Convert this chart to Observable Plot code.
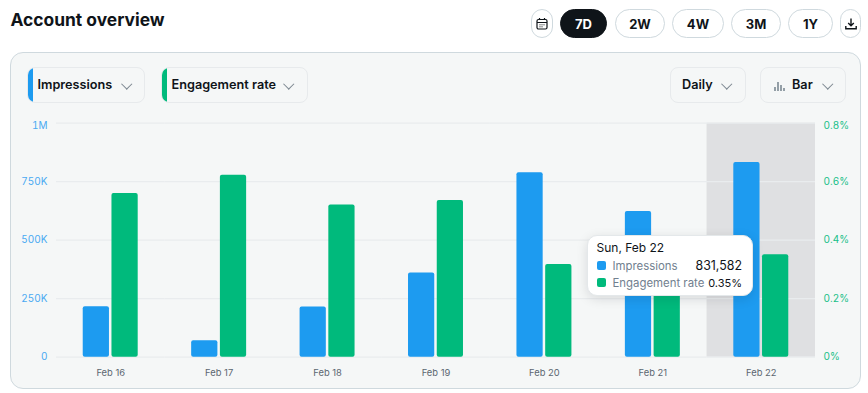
<!DOCTYPE html>
<html><head><meta charset="utf-8">
<script src="https://cdn.jsdelivr.net/npm/d3@7"></script>
<script src="https://cdn.jsdelivr.net/npm/@observablehq/plot@0.6"></script>
<style>
html,body{margin:0;padding:0;background:#fff;width:868px;height:393px;overflow:hidden;font-family:Inter,Roboto,sans-serif;color:#0f1419}
.a{position:absolute;box-sizing:border-box}
.title{left:10.5px;top:8px;font-size:17.4px;font-weight:700;line-height:24px;white-space:nowrap}
.pill{top:9px;height:29px;border:1px solid #cfd9de;border-radius:15px;background:#fff;display:flex;align-items:center;justify-content:center;font-size:13px;font-weight:700}
.pill.on{background:#0f1419;color:#fff;border-color:#0f1419}
.panel{left:10px;top:52px;width:851px;height:336.5px;background:#f5f7f7;border:1px solid #cfd9de;border-radius:13px}
.sel{top:67px;height:36px;border:1px solid #e7eaec;border-radius:8px;font-size:12.7px;font-weight:600;line-height:34px;white-space:nowrap;overflow:hidden}
.sel i{position:absolute;left:0;top:0;bottom:0;width:5px;border-radius:5px 0 0 5px}
.sel span{position:absolute;top:0}
.chev{position:absolute;top:11.5px;width:6.5px;height:6.5px;border-right:1.2px solid #7c8790;border-bottom:1.2px solid #7c8790;transform:rotate(45deg)}
#chart{position:absolute;left:0;top:110px}
#chart svg{display:block;background:transparent}
.tip{left:587px;top:235px;width:166px;height:61px;background:#fff;border:1px solid #e4e8ea;border-radius:10px;box-shadow:0 3px 12px rgba(15,20,25,.12);font-size:12px;line-height:16px}
.tip div{position:absolute;white-space:nowrap}
.tip .k{left:24.5px;color:#71808f;font-size:11.4px}
.tip .v{right:10px;color:#0f1419}
.tip .s{left:8.5px;width:9px;height:9px;border-radius:2px}
</style></head><body>
<div class="a title">Account overview</div>
<div class="a pill" style="left:531px;width:22px"><svg width="14" height="14" viewBox="0 0 14 14" fill="none" stroke="#0f1419" stroke-width="1.2"><rect x="2" y="2.5" width="10" height="9.5" rx="1.5"/><path d="M2 5.5h10M4.5 1v2M9.5 1v2"/><path d="M4.5 7.8h1M6.5 7.8h1M8.5 7.8h1M4.5 9.8h1M6.5 9.8h1" stroke-width="1"/></svg></div>
<div class="a pill on" style="left:560px;width:47px">7D</div>
<div class="a pill" style="left:615px;width:50px">2W</div>
<div class="a pill" style="left:672px;width:52px">4W</div>
<div class="a pill" style="left:731px;width:50px">3M</div>
<div class="a pill" style="left:788px;width:45px">1Y</div>
<div class="a pill" style="left:840px;width:21px"><svg width="14" height="14" viewBox="0 0 14 14" fill="none" stroke="#0f1419" stroke-width="1.4"><path d="M7 1.5v7M4.2 6 7 8.8 9.8 6M1.8 9v2.8h10.4V9"/></svg></div>
<div class="a panel"></div>
<div class="a sel" style="left:27px;width:118px"><i style="background:#1d9bf0"></i><span style="left:9.5px">Impressions</span><b class="chev" style="left:95px"></b></div>
<div class="a sel" style="left:161px;width:147px"><i style="background:#00ba7c"></i><span style="left:9.5px">Engagement rate</span><b class="chev" style="left:123px"></b></div>
<div class="a sel" style="left:670px;width:76px"><span style="left:11px">Daily</span><b class="chev" style="left:52px"></b></div>
<div class="a sel" style="left:760px;width:86px"><svg style="position:absolute;left:12px;top:12px" width="12" height="12" viewBox="0 0 12 12" fill="none" stroke="#536471" stroke-width="1.2"><path d="M2 11V7M5 11V2M8 11V5M11 11V8"/></svg><span style="left:31px">Bar</span><b class="chev" style="left:63px"></b></div>
<div id="chart"></div>
<div class="a tip">
<div style="left:8.5px;top:3.5px">Sun, Feb 22</div>
<div class="s" style="top:25px;background:#1d9bf0"></div><div class="k" style="top:21.5px">Impressions</div><div class="v" style="top:21.5px;font-size:12.4px">831,582</div>
<div class="s" style="top:42px;background:#00ba7c"></div><div class="k" style="top:38.5px">Engagement rate</div><div class="v" style="top:38.5px;font-size:11px">0.35%</div>
</div>
<script>
const dates = ["Feb 16","Feb 17","Feb 18","Feb 19","Feb 20","Feb 21","Feb 22"];
const impressions = [216000,70000,214000,360000,788000,623000,831582];
const engagementRate = [0.56,0.622,0.52,0.536,0.317,0.30,0.35];
const highlighted = ["Feb 22"];
const leftTicks = [0,250000,500000,750000];
const rightTicks = [0,0.2,0.4,0.6];
const IMAX = 1000000, RMAX = 0.8;
const toY = r => r / RMAX * IMAX;
const fmtL = v => v === 0 ? "0" : v >= 1e6 ? "1M" : (v/1000) + "K";
const fmtR = v => (v/IMAX*RMAX).toFixed(1).replace(/^0\.0$/,"0") + "%";
const rows = dates.flatMap((d,i)=>[
  {date:d,series:"Impressions",value:impressions[i]},
  {date:d,series:"Engagement",value:toY(engagementRate[i])}
]);
const chart = Plot.plot({
  width:868,height:283,marginLeft:56,marginRight:53,marginTop:12.7,marginBottom:36.3,
  style:{background:"transparent",fontFamily:"Inter,Roboto,sans-serif",fontSize:"10px"},
  fx:{domain:dates,padding:0,round:false,axis:null,label:null},
  x:{domain:["Impressions","Engagement"],axis:null,round:false,paddingInner:0.087,paddingOuter:0.93,label:null},
  y:{domain:[0,IMAX],axis:null,label:null},
  color:{domain:["Impressions","Engagement"],range:["#1d9bf0","#00ba7c"]},
  marks:[
    Plot.barY(highlighted.map(d=>({date:d})),{fx:"date",y1:()=>0,y2:()=>IMAX,fill:"#dfe0e2"}),
    Plot.ruleY([0,250000,500000,750000,IMAX],{stroke:"#e9ecee",strokeWidth:1.2}),
    Plot.barY(rows,{fx:"date",x:"series",y:"value",fill:"series",rx:2}),
    Plot.axisFx({anchor:"bottom",tickSize:0,tickPadding:12.5,fill:"#5b6670",fontSize:9.4,label:null}),
    Plot.axisY({anchor:"left",ticks:leftTicks,tickFormat:fmtL,tickSize:0,tickPadding:9,fill:"#4aa9f2",label:null}),
    Plot.axisY({anchor:"left",ticks:[IMAX],tickFormat:fmtL,tickSize:0,tickPadding:9,dy:2.5,fill:"#4aa9f2",label:null}),
    Plot.axisY({anchor:"right",ticks:rightTicks.map(toY),tickFormat:fmtR,tickSize:0,tickPadding:8,fill:"#17c088",label:null}),
    Plot.axisY({anchor:"right",ticks:[IMAX],tickFormat:fmtR,tickSize:0,tickPadding:8,dy:2.5,fill:"#17c088",label:null})
  ]
});
document.getElementById("chart").append(chart);
</script>
</body></html>
